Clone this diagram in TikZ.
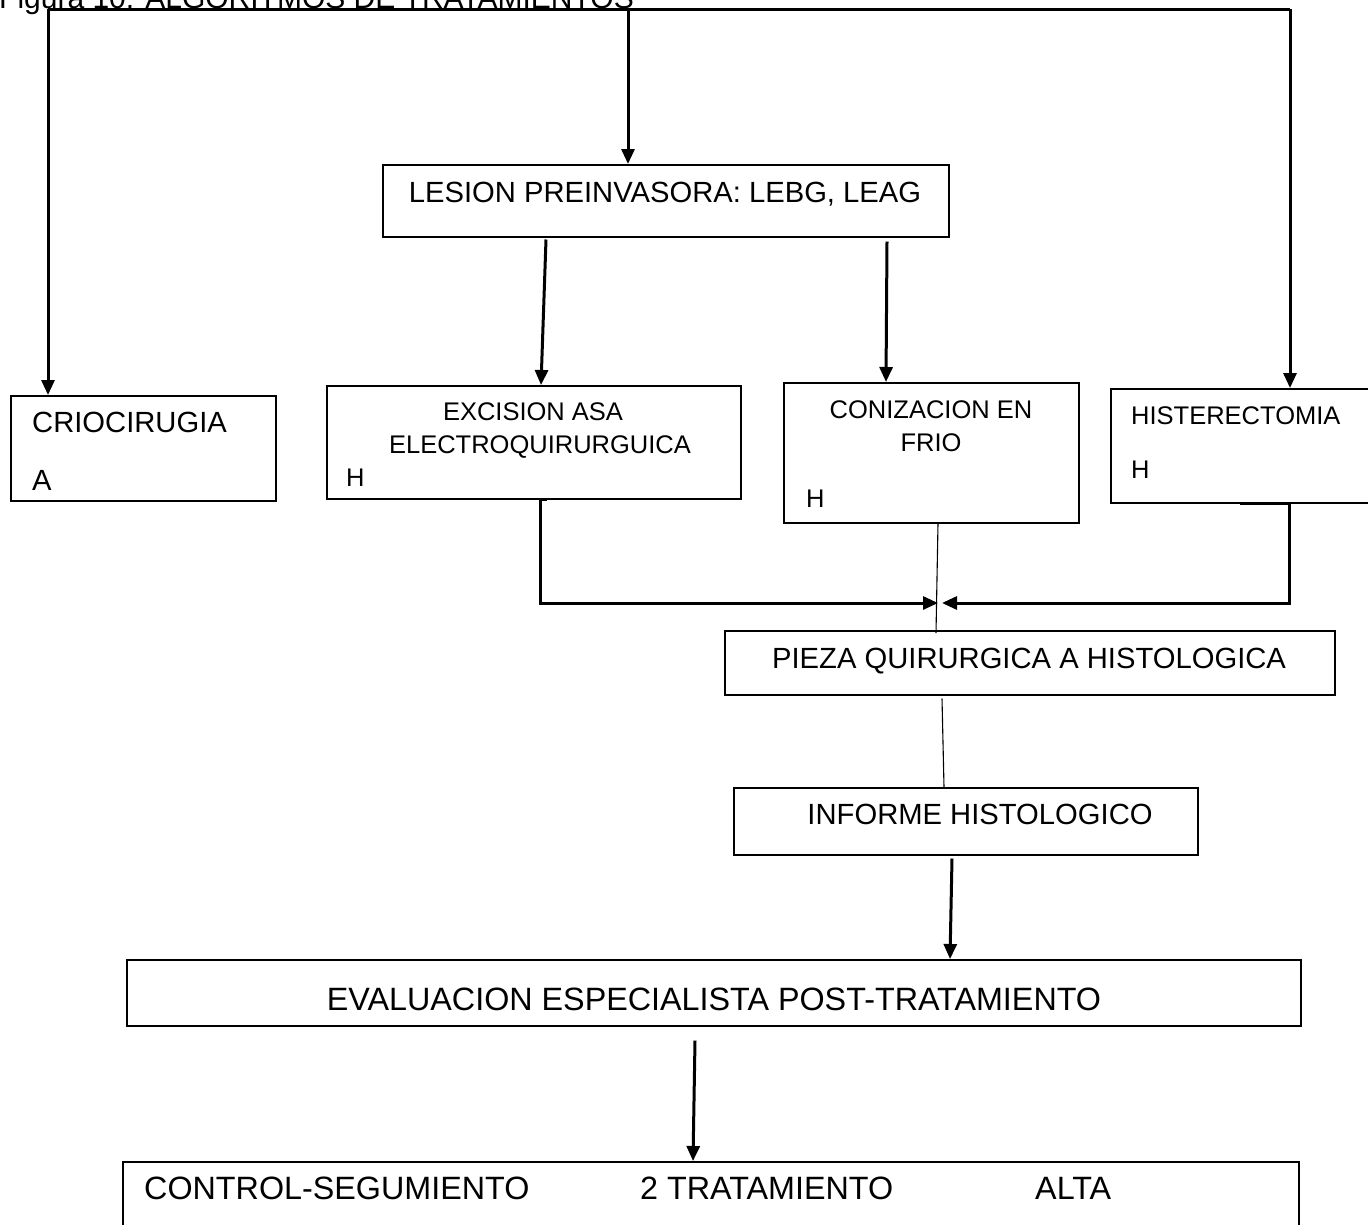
\documentclass[tikz,border=0pt]{standalone}
\usepackage{fontspec}
\setmainfont{Liberation Sans}
\usetikzlibrary{arrows.meta,calc}
\newcommand{\ftbig}{\fontsize{32.3}{37}\selectfont}
\newcommand{\ftmid}{\fontsize{29.2}{34}\selectfont}
\newcommand{\ftsmall}{\fontsize{25.5}{30}\selectfont}
\begin{document}
\begin{tikzpicture}[x=1pt,y=-1pt,
  box/.style={draw, line width=1.5pt, inner sep=0pt, anchor=north west},
  lbl/.style={inner sep=0pt, font=\ftmid},
  slbl/.style={inner sep=0pt, font=\ftsmall},
  blbl/.style={inner sep=0pt, font=\ftbig},
  conn/.style={line width=3pt},
  arr/.style={line width=3pt, -{Triangle[length=15pt,width=13pt]}},
  fine/.style={line width=1.1pt}]
\useasboundingbox (0,0) rectangle (1368,1224);
\clip (0,0) rectangle (1368,1224);

% heading
\node[lbl, anchor=base west, font=\fontsize{30}{35}\selectfont] (title) at (-1,8) {Figura 10: ALGORITMOS DE TRATAMIENTOS};

% boxes
\node[box, minimum width=566pt, minimum height=72pt] (lesion) at (382,164) {};
\node[box, minimum width=265pt, minimum height=105pt] (crio) at (10,395) {};
\node[box, minimum width=414pt, minimum height=113pt] (exc) at (326,385) {};
\node[box, minimum width=295pt, minimum height=140pt] (coniz) at (783,382) {};
\node[box, minimum width=280pt, minimum height=114pt] (hist) at (1110,388) {};
\node[box, minimum width=610pt, minimum height=64pt] (pieza) at (724,630) {};
\node[box, minimum width=464pt, minimum height=67pt] (inf) at (733,787) {};
\node[box, minimum width=1174pt, minimum height=66pt] (eval) at (126,959) {};
\node[box, minimum width=1176pt, minimum height=90pt] (bot) at (122,1161) {};

% texts
\node[lbl, anchor=base] (tlesion) at (665,202) {LESION PREINVASORA: LEBG, LEAG};
\node[lbl, anchor=base west] (tcrio) at (32,432) {CRIOCIRUGIA};
\node[lbl, anchor=base west] (tcrioa) at (32,490) {A};
\node[slbl, anchor=base] (texc1) at (533,420) {EXCISION ASA};
\node[slbl, anchor=base] (texc2) at (540,453) {ELECTROQUIRURGUICA};
\node[slbl, anchor=base west] (texch) at (346,486) {H};
\node[slbl, anchor=base] (tcon1) at (931,418) {CONIZACION EN};
\node[slbl, anchor=base] (tcon2) at (931,451) {FRIO};
\node[slbl, anchor=base west] (tconh) at (806,507) {H};
\node[slbl, anchor=base west] (thist) at (1131,424) {HISTERECTOMIA};
\node[slbl, anchor=base west] (thisth) at (1131,478) {H};
\node[lbl, anchor=base] (tpieza) at (1029,668) {PIEZA QUIRURGICA A HISTOLOGICA};
\node[lbl, anchor=base] (tinf) at (980,824) {INFORME HISTOLOGICO};
\node[blbl, anchor=base] (teval) at (714,1010) {EVALUACION ESPECIALISTA POST-TRATAMIENTO};
\node[blbl, anchor=base west] (tctrl) at (144,1199) {CONTROL-SEGUMIENTO};
\node[blbl, anchor=base west] (ttrat) at (640,1199) {2 TRATAMIENTO};
\node[blbl, anchor=base west] (talta) at (1035,1199) {ALTA};

% top distribution line
\coordinate (tl) at (48,9);
\coordinate (tm) at (628,9);
\coordinate (tr) at (1290,9);
\draw[conn] (tl) -- (tr);
\draw[arr] (tl) -- (tl |- crio.north);
\draw[arr] (tm) -- (tm |- lesion.north);
\draw[arr] (tr) -- (tr |- hist.north);

% from the lesion box
\draw[arr] ($(lesion.south west)+(164,2)$) -- ($(exc.north west)+(215,0)$);
\draw[arr] ($(lesion.south west)+(505,4)$) -- ($(coniz.north west)+(103,0)$);

% surgical pieces gathered
\coordinate (jl) at (938,603);
\coordinate (jr) at (942,603);
\coordinate (ea) at ($(exc.south west)+(221,0)$);
\coordinate (eb) at ($(exc.south west)+(214,0)$);
\coordinate (ha) at ($(hist.south west)+(130,0)$);
\coordinate (hb) at ($(hist.south west)+(179,0)$);
\draw[arr] (ea) -- (eb) -- (eb |- jl) -- (jl);
\draw[arr] (ha) -- (hb) -- (hb |- jr) -- (jr);
\draw[fine] ($(coniz.south west)+(155,0)$) -- ($(pieza.north west)+(212,3)$);

% lower chain
\draw[fine] ($(pieza.south west)+(218,3)$) -- ($(inf.north west)+(211,0)$);
\draw[arr] ($(inf.south west)+(219,3)$) -- ($(eval.north west)+(824,0)$);
\draw[arr] ($(eval.south west)+(569,14)$) -- ($(bot.north west)+(571,0)$);
\end{tikzpicture}
\end{document}
